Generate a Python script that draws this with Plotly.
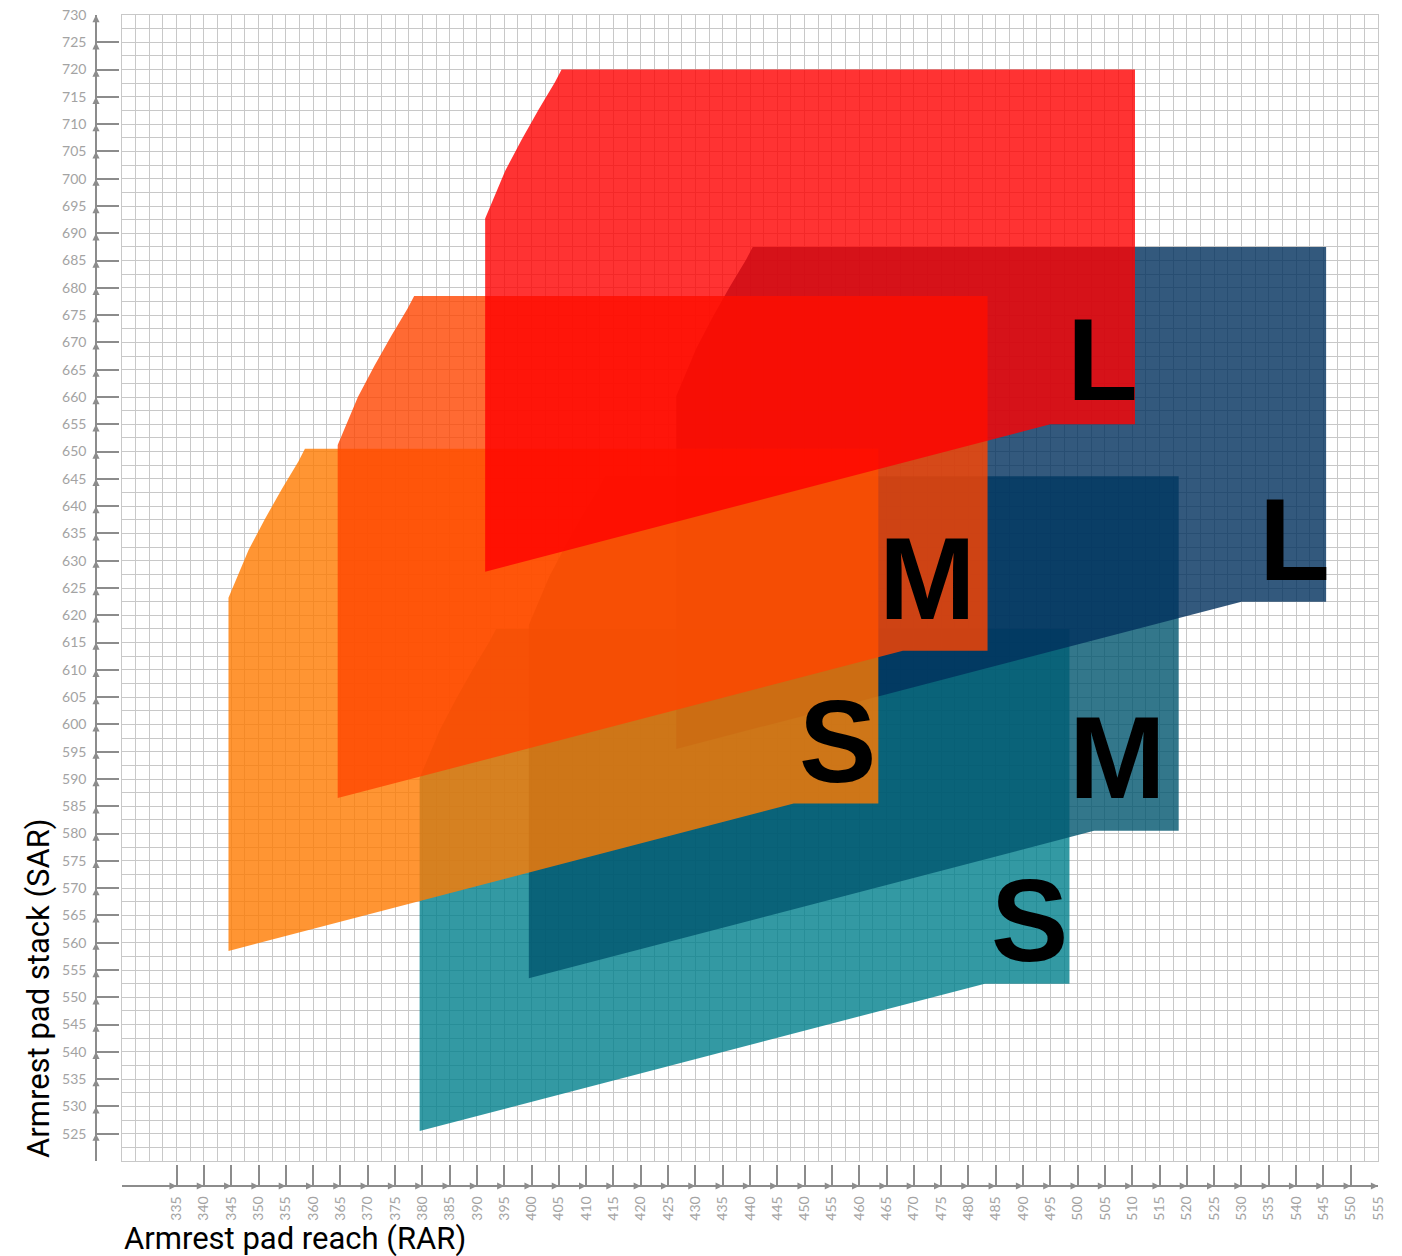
import plotly.graph_objects as go

# ---- data: polygon outlines (RAR, SAR) ----
S_teal_x = [379.5, 483.0, 498.5, 498.5, 393.5, 392.3, 389.3, 386.2, 383.2, 380.1, 379.5]
S_teal_y = [525.5, 552.5, 552.5, 617.5, 617.5, 615.2, 610.2, 604.7, 599.0, 591.8, 590.2]

M_blue_x = [399.5, 503.0, 518.5, 518.5, 413.5, 412.3, 409.3, 406.2, 403.2, 400.1, 399.5]
M_blue_y = [553.5, 580.5, 580.5, 645.5, 645.5, 643.2, 638.2, 632.7, 627.0, 619.8, 618.2]

L_blue_x = [426.5, 530.0, 545.5, 545.5, 440.5, 439.3, 436.3, 433.2, 430.2, 427.1, 426.5]
L_blue_y = [595.5, 622.5, 622.5, 687.5, 687.5, 685.2, 680.2, 674.7, 669.0, 661.8, 660.2]

S_orange_x = [344.5, 448.0, 463.5, 463.5, 358.5, 357.3, 354.3, 351.2, 348.2, 345.1, 344.5]
S_orange_y = [558.5, 585.5, 585.5, 650.5, 650.5, 648.2, 643.2, 637.7, 632.0, 624.8, 623.2]

M_orange_x = [364.5, 468.0, 483.5, 483.5, 378.5, 377.3, 374.3, 371.2, 368.2, 365.1, 364.5]
M_orange_y = [586.5, 613.5, 613.5, 678.5, 678.5, 676.2, 671.2, 665.7, 660.0, 652.8, 651.2]

L_red_x = [391.5, 495.0, 510.5, 510.5, 405.5, 404.3, 401.3, 398.2, 395.2, 392.1, 391.5]
L_red_y = [628.0, 655.0, 655.0, 720.0, 720.0, 717.7, 712.7, 707.2, 701.5, 694.3, 692.7]

size_labels = ["S", "M", "L", "S", "M", "L"]
label_x = [491.2, 507.3, 539.8, 456.0, 472.5, 504.6]
label_y = [564.0, 593.9, 633.8, 596.8, 626.7, 666.8]

x_ticks = list(range(335, 556, 5))
y_ticks = list(range(525, 731, 5))

x_title = "Armrest pad reach (RAR)"
y_title = "Armrest pad stack (SAR)"

polys = [
    (S_teal_x, S_teal_y, "rgba(0,128,140,0.8)"),
    (M_blue_x, M_blue_y, "rgba(0,85,110,0.8)"),
    (L_blue_x, L_blue_y, "rgba(0,47,92,0.8)"),
    (S_orange_x, S_orange_y, "rgba(255,123,0,0.8)"),
    (M_orange_x, M_orange_y, "rgba(255,69,0,0.8)"),
    (L_red_x, L_red_y, "rgba(255,0,0,0.8)"),
]

fig = go.Figure()
for i, (px, py, col) in enumerate(polys):
    last = i == len(polys) - 1
    fig.add_trace(go.Scatter(
        x=px, y=py, mode="lines", fill="toself", fillcolor=col,
        line=dict(width=0, color=col), hoverinfo="skip", showlegend=False,
        xaxis="x2" if last else "x", yaxis="y2" if last else "y",
    ))

axis_gray = "#8c8c8c"
grid_gray = "#c8c8c8"
tick_font = dict(family="Lato", size=14, color="#a3a3a3")

fig.update_layout(
    width=1386, height=1248,
    margin=dict(l=88, r=16, t=7, b=70, autoexpand=False),
    paper_bgcolor="white", plot_bgcolor="white",
    showlegend=False,
    xaxis=dict(domain=[26 / 1282, 1], range=[325, 555], tick0=325, dtick=2.5,
               showgrid=True, gridcolor=grid_gray, gridwidth=1.3,
               showticklabels=False, ticks="", zeroline=False, automargin=False,
               showline=True, mirror=True, linecolor=grid_gray, linewidth=1.3),
    yaxis=dict(domain=[25 / 1171, 1], range=[520, 730], tick0=520, dtick=2.5,
               showgrid=True, gridcolor=grid_gray, gridwidth=1.3,
               showticklabels=False, ticks="", zeroline=False, automargin=False,
               showline=True, mirror=True, linecolor=grid_gray, linewidth=1.3),
    xaxis2=dict(overlaying="x", anchor="free", position=0, side="bottom",
                range=[325, 555], tickmode="array", tickvals=x_ticks,
                ticktext=[str(v) for v in x_ticks], automargin=False,
                ticks="inside", ticklen=20, tickwidth=1.5, tickcolor=axis_gray,
                showline=True, linecolor=axis_gray, linewidth=1.5,
                showgrid=False, zeroline=False, tickangle=-90,
                tickfont=tick_font, ticklabelstandoff=4,
                ticklabeloverflow="allow"),
    yaxis2=dict(overlaying="y", anchor="free", position=0, side="left",
                range=[520, 730], tickmode="array", tickvals=y_ticks,
                ticktext=[str(v) for v in y_ticks], automargin=False,
                ticks="inside", ticklen=22, tickwidth=1.5, tickcolor=axis_gray,
                showline=True, linecolor=axis_gray, linewidth=1.5,
                showgrid=False, zeroline=False,
                tickfont=tick_font, ticklabelstandoff=6,
                ticklabeloverflow="allow"),
)

annotations = []
for t, lx, ly in zip(size_labels, label_x, label_y):
    annotations.append(dict(
        x=lx, y=ly, xref="x", yref="y", text=t, showarrow=False,
        xanchor="center", yanchor="middle",
        font=dict(family="Liberation Sans", size=116, color="black", weight="bold"),
    ))
for v in y_ticks:
    annotations.append(dict(
        x=0, y=v, xref="paper", yref="y", text="", showarrow=True,
        ax=0, ay=10, arrowhead=2, arrowsize=1.1, arrowwidth=1.3,
        arrowcolor=axis_gray, standoff=0,
    ))
for v in x_ticks:
    annotations.append(dict(
        x=v, y=0, xref="x", yref="paper", text="", showarrow=True,
        ax=-10, ay=0, arrowhead=2, arrowsize=1.1, arrowwidth=1.3,
        arrowcolor=axis_gray, standoff=0,
    ))
annotations.append(dict(
    x=26 / 1282, y=-(1238 - 1186) / 1171, xref="paper", yref="paper",
    text=x_title, showarrow=False, xanchor="left", yanchor="middle",
    font=dict(family="Roboto", size=31, color="black"),
))
annotations.append(dict(
    x=(38 - 96) / 1282, y=(1186 - 1160) / 1171, xref="paper", yref="paper",
    text=y_title, showarrow=False, xanchor="center", yanchor="bottom",
    textangle=-90, font=dict(family="Roboto", size=31, color="black"),
))
fig.update_layout(annotations=annotations)

fig.write_html("out.html")
